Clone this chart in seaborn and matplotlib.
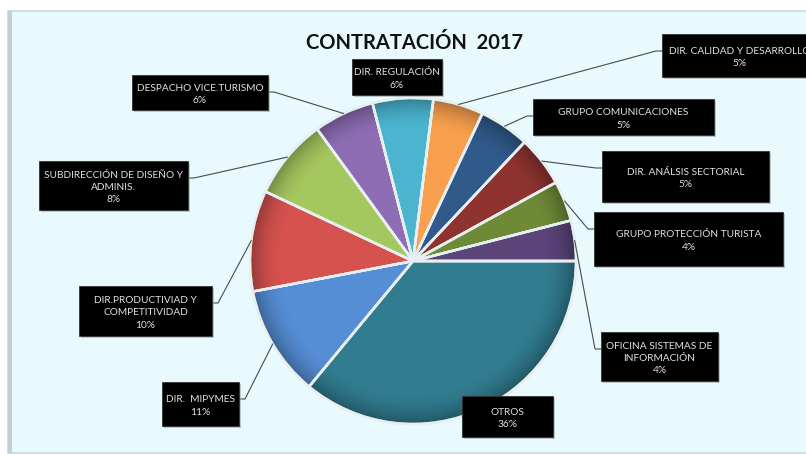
import matplotlib
matplotlib.use("Agg")
import matplotlib.pyplot as plt
import seaborn as sns
import numpy as np
from matplotlib.patches import Rectangle, Circle, Wedge
from matplotlib import font_manager

# ---------------- data ----------------
title = "CONTRATACIÓN  2017"
categories = [
    "OTROS",
    "DIR.  MIPYMES",
    "DIR.PRODUCTIVIAD Y\nCOMPETITIVIDAD",
    "SUBDIRECCIÓN DE DISEÑO Y\nADMINIS.",
    "DESPACHO VICE.TURISMO",
    "DIR. REGULACIÓN",
    "DIR. CALIDAD Y DESARROLLO",
    "GRUPO COMUNICACIONES",
    "DIR. ANÁLSIS SECTORIAL",
    "GRUPO PROTECCIÓN TURISTA",
    "OFICINA SISTEMAS DE\nINFORMACIÓN",
]
values = [36, 11, 10, 8, 6, 6, 5, 5, 5, 4, 4]
colors = ["#317C8F", "#558ED5", "#D5524E", "#A5C75F", "#8E6DB5", "#4BB5D0",
          "#F9A04E", "#2F5A8A", "#8F3330", "#6E8A37", "#5A4478"]

# ---------------- layout (pixels, y downward) ----------------
W, H = 806, 456
pie_center = (413, 262)
pie_radius = 163
# label boxes: left, top, right, bottom
boxes = [
    (462, 397, 553, 438),
    (162, 383, 239, 427),
    (79, 287, 212, 337),
    (39, 162, 188, 211),
    (132, 76, 268, 111),
    (352, 60, 442, 96),
    (662, 35, 818, 78),
    (533, 100, 714, 136),
    (602, 152, 769, 203),
    (594, 213, 783, 267),
    (601, 333, 718, 382),
]

sns.set_theme(style="white")
palette = sns.color_palette(colors)


def pick_font(cands):
    for c in cands:
        try:
            font_manager.findfont(c, fallback_to_default=False)
            return c
        except Exception:
            pass
    return "DejaVu Sans"


fam = pick_font(["Lato", "Open Sans", "Liberation Sans"])
plt.rcParams["font.family"] = [fam, "DejaVu Sans"]

fig = plt.figure(figsize=(W / 100, H / 100), dpi=100)
fig.patch.set_facecolor("white")
ax = fig.add_axes([0, 0, 1, 1])

# chart area background frame
ax.add_patch(Rectangle((8, 12), W, 442, facecolor="#E8FAFE", edgecolor="#C9D9DE",
                       linewidth=1.2, zorder=0))
ax.add_patch(Rectangle((8, 12), 4, 442, facecolor="#BFD0D6", edgecolor="none", zorder=0.5))

cx, cy = pie_center
wedges, _ = ax.pie(values, colors=palette, startangle=0, counterclock=True,
                   center=pie_center, radius=pie_radius,
                   wedgeprops=dict(edgecolor="#E8EFF1", linewidth=1.8), frame=True)
for w in wedges:
    w.set_zorder(2)

# rim darkening (bevel look)
n = 300
yy, xx = np.mgrid[-1:1:n * 1j, -1:1:n * 1j]
rr = np.sqrt(xx ** 2 + yy ** 2)
alpha = np.clip((rr - 0.80) / 0.20, 0, 1) ** 2 * 0.30
rgba = np.zeros((n, n, 4))
rgba[..., 3] = alpha
im = ax.imshow(rgba, extent=(cx - pie_radius, cx + pie_radius, cy + pie_radius, cy - pie_radius),
               zorder=3, interpolation="bilinear")
clip = Circle(pie_center, pie_radius, transform=ax.transData)
im.set_clip_path(clip)
ax.add_patch(Circle(pie_center, pie_radius, fill=False, edgecolor="#9AA8AC", linewidth=1.0, zorder=4))
for w in wedges:
    ax.add_patch(Wedge(w.center, w.r, w.theta1, w.theta2, fill=False,
                       edgecolor="#E8EFF1", linewidth=1.8, zorder=4))

# labels with leader lines
total = sum(values)
cum = 0.0
for v, lab, (l, t, r, b) in zip(values, categories, boxes):
    mid = 360.0 * (cum + v / 2) / total
    cum += v
    bw, bh = r - l, b - t
    bxc, byc = (l + r) / 2, (t + b) / 2
    nx = min(max(cx, l), r)
    ny = min(max(cy, t), b)
    d = np.hypot(nx - cx, ny - cy)
    if d > pie_radius + 8:
        ex = cx + pie_radius * np.cos(np.radians(mid))
        ey = cy + pie_radius * np.sin(np.radians(mid))
        ay = t + min(bh / 2, 17)
        if bxc < cx:
            ax_, elb = r, r + 6
        else:
            ax_, elb = l, l - 6
        ax.plot([ex, elb, ax_], [ey, ay, ay], color="#4A4A4A", linewidth=0.8, zorder=5)
    ax.add_patch(Rectangle((l + 2, t + 2), bw, bh, facecolor="#9AA3A6", alpha=0.6,
                           edgecolor="none", zorder=6))
    ax.add_patch(Rectangle((l, t), bw, bh, facecolor="black", edgecolor="#333333",
                           linewidth=0.6, zorder=7))
    pct = f"{round(100 * v / total)}%"
    ax.text(bxc, byc + 1, f"{lab}\n{pct}", ha="center", va="center", fontsize=7.3,
            color="#E2E2E2", linespacing=1.45, zorder=8)

ax.text(414, 43, title, ha="center", va="center", fontsize=14.5, fontweight="bold",
        color="#111111", zorder=8)

ax.set_aspect("auto")
ax.set_xlim(0, W)
ax.set_ylim(H, 0)
ax.axis("off")

fig.savefig("out.png", dpi=100, facecolor="white")
